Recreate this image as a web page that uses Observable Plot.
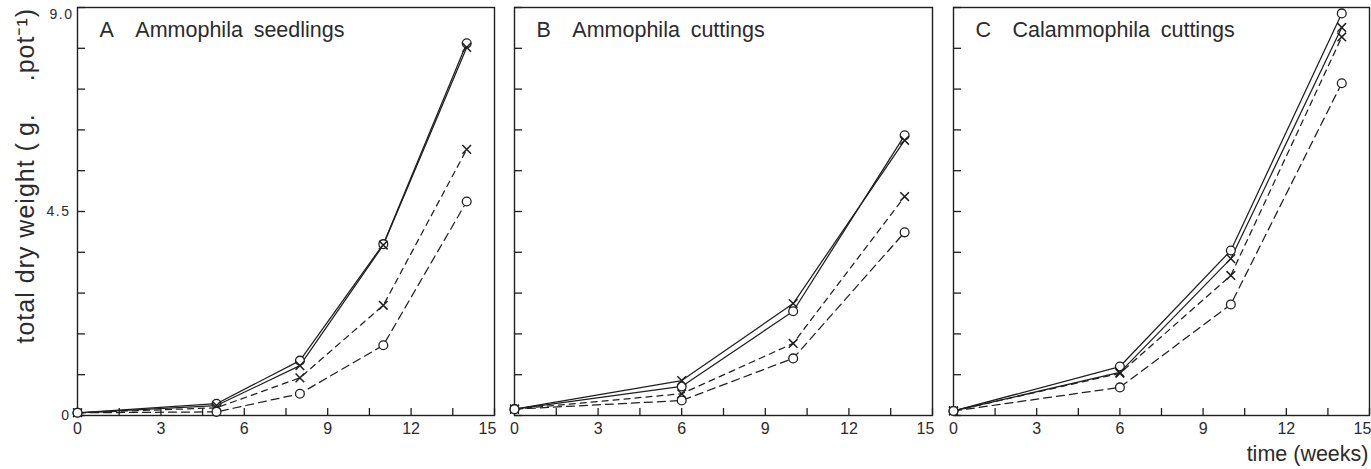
<!DOCTYPE html>
<html>
<head>
<meta charset="utf-8">
<script src="https://cdn.jsdelivr.net/npm/d3@7"></script>
<script src="https://cdn.jsdelivr.net/npm/@observablehq/plot@0.6"></script>
<style>
  body { margin: 0; background: #fff; }
  #wrap { position: relative; width: 1371px; height: 469px; overflow: hidden; background: #fff; }
  #wrap .panel { position: absolute; top: 0; }
  #wrap .panel g[aria-label^="y-axis"] text { letter-spacing: 1.5px; }
</style>
</head>
<body>
<div id="wrap"></div>
<script>
// ---------- data ----------
const seriesNames = ["solid-circle", "solid-cross", "dashed-cross", "dashed-circle"];

const weeksA = [0, 5, 8, 11, 14];
const A_solidCircle  = [0.06, 0.26, 1.21, 3.78, 8.21];
const A_solidCross   = [0.06, 0.22, 1.10, 3.76, 8.12];
const A_dashedCross  = [0.06, 0.17, 0.83, 2.43, 5.87];
const A_dashedCircle = [0.06, 0.08, 0.48, 1.55, 4.72];

const weeksB = [0, 6, 10, 14];
const B_solidCircle  = [0.14, 0.64, 2.30, 6.18];
const B_solidCross   = [0.14, 0.77, 2.47, 6.07];
const B_dashedCross  = [0.14, 0.48, 1.59, 4.83];
const B_dashedCircle = [0.14, 0.33, 1.26, 4.04];

const weeksC = [0, 6, 10, 14];
const C_solidCircle  = [0.10, 1.08, 3.64, 8.87];
const C_solidCross   = [0.10, 0.95, 3.46, 8.56];
const C_dashedCross  = [0.10, 0.93, 3.09, 8.35];
const C_dashedCircle = [0.10, 0.62, 2.45, 7.33];

const xTicks = [0, 1.5, 3, 4.5, 6, 7.5, 9, 10.5, 12, 13.5, 15];
const xTickLabels = [0, 3, 6, 9, 12];
const xLastLabel = [15];
const yTicks = [0, 0.9, 1.8, 2.7, 3.6, 4.5, 5.4, 6.3, 7.2, 8.1, 9.0];
const yTickLabels = [0, 4.5];
const yTopLabel = [9.0];

const panelTitles = [
  "A\u2002\u2002Ammophila\u2002seedlings",
  "B\u2002\u2002Ammophila\u2002cuttings",
  "C\u2002\u2002Calammophila\u2002cuttings"
];
const yTitle = "total dry weight (\u2009g.\u2003\u2009.pot\u207B\u00B9)";
const xTitle = "time (weeks)";

// ---------- layout / style ----------
const INK = "#1f1f1f";
const TEXT = "#2b2b2b";
const FONT = "'Liberation Sans', Arial, Helvetica, sans-serif";
const H = 469, MT = 7, MB = 54;
const dashes = [null, null, "6,5", "8,5"];

function rows(weeks, arrays) {
  const out = [];
  arrays.forEach((vals, s) => vals.forEach((v, i) => out.push({series: seriesNames[s], week: weeks[i], value: v})));
  return out;
}

const panels = [
  {left: 0,   width: 504, ml: 77, mr: 10, data: rows(weeksA, [A_solidCircle, A_solidCross, A_dashedCross, A_dashedCircle]), title: panelTitles[0], first: true},
  {left: 504, width: 433, ml: 10, mr: 5,  data: rows(weeksB, [B_solidCircle, B_solidCross, B_dashedCross, B_dashedCircle]), title: panelTitles[1]},
  {left: 937, width: 434, ml: 16, mr: 2,  data: rows(weeksC, [C_solidCircle, C_solidCross, C_dashedCross, C_dashedCircle]), title: panelTitles[2], last: true}
];

const wrap = document.getElementById("wrap");

panels.forEach(p => {
  const fw = p.width - p.ml - p.mr;
  const fh = H - MT - MB;
  const marks = [
    Plot.frame({stroke: INK, strokeWidth: 1.4}),
    // inward ticks
    Plot.tickX(xTicks, {x: d => d, stroke: INK, strokeWidth: 1.3, insetTop: fh - 7}),
    Plot.tickY(yTicks, {y: d => d, stroke: INK, strokeWidth: 1.3, insetRight: fw - 8}),
    // x tick labels
    Plot.axisX({ticks: xTickLabels, tickSize: 0, tickPadding: 7, fontSize: 16, label: null, fill: TEXT, tickFormat: d => String(d)}),
    Plot.axisX({ticks: xLastLabel, tickSize: 0, tickPadding: 7, fontSize: 16, label: null, fill: TEXT, dx: -7, tickFormat: d => String(d)}),
  ];
  seriesNames.forEach((s, i) => {
    marks.push(Plot.line(p.data.filter(d => d.series === s), {
      x: "week", y: "value", stroke: INK, strokeWidth: 1.25,
      strokeDasharray: dashes[i]
    }));
  });
  seriesNames.forEach(s => {
    const pts = p.data.filter(d => d.series === s);
    if (s.endsWith("circle")) {
      marks.push(Plot.dot(pts, {x: "week", y: "value", r: 4.4, fill: "white", stroke: INK, strokeWidth: 1.3}));
    } else {
      marks.push(Plot.dot(pts, {x: "week", y: "value", r: 4, symbol: "times", stroke: INK, strokeWidth: 1.5}));
    }
  });
  marks.push(Plot.text([p.title], {frameAnchor: "top-left", text: d => d, textAnchor: "start", lineAnchor: "top", dx: 22, dy: 14, fontSize: 21.5, fill: TEXT}));
  if (p.first) {
    marks.push(Plot.axisY({ticks: yTickLabels, tickSize: 0, tickPadding: 7, fontSize: 14, label: null, fill: TEXT, tickFormat: d => d === 0 ? "0" : d.toFixed(1)}));
    marks.push(Plot.axisY({ticks: yTopLabel, tickSize: 0, tickPadding: 4, fontSize: 14, label: null, fill: TEXT, dy: 7, tickFormat: d => d.toFixed(1)}));
    marks.push(Plot.text([yTitle], {frameAnchor: "bottom-left", text: d => d, rotate: -90, textAnchor: "start", lineAnchor: "middle", dx: -52, dy: -72, fontSize: 25, fill: TEXT}));
  }
  if (p.last) {
    marks.push(Plot.text([xTitle], {frameAnchor: "bottom-right", text: d => d, textAnchor: "end", lineAnchor: "top", dx: -1, dy: 30, fontSize: 21.5, fill: TEXT}));
  }
  const svg = Plot.plot({
    width: p.width,
    height: H,
    marginTop: MT,
    marginBottom: MB,
    marginLeft: p.ml,
    marginRight: p.mr,
    x: {domain: [0, 15], label: null},
    y: {domain: [0, 9], label: null, axis: p.first ? undefined : null},
    style: {background: "transparent", fontFamily: FONT, color: TEXT, overflow: "visible"},
    marks
  });
  svg.classList.add("panel");
  svg.style.left = p.left + "px";
  d3.select(svg).selectAll("text")
    .filter(function() { return this.textContent === yTitle; })
    .style("letter-spacing", "1px");
  wrap.appendChild(svg);
});
</script>
</body>
</html>
